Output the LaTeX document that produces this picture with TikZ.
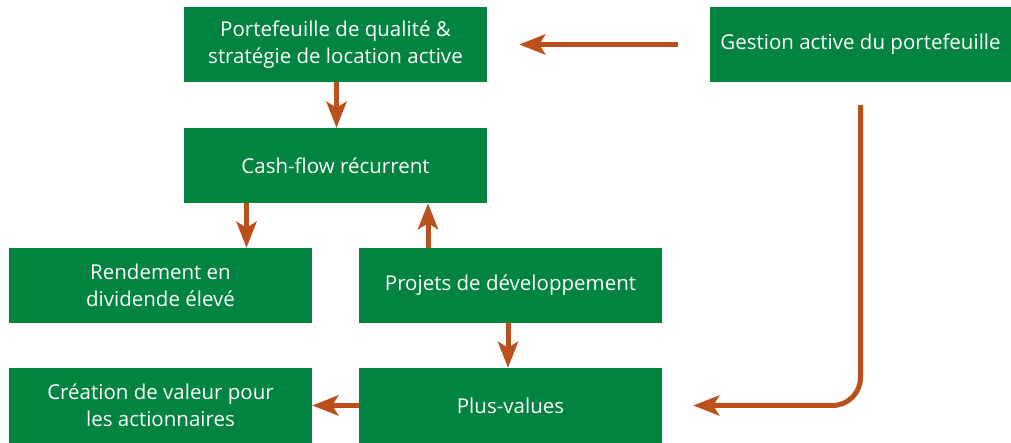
\documentclass[tikz,border=0pt]{standalone}
\usepackage{fontspec}
\setmainfont{Open Sans}
\usetikzlibrary{arrows.meta}
\definecolor{boxgreen}{HTML}{00843F}
\definecolor{arrowor}{HTML}{BB501C}
\tikzset{
  box/.style={rectangle, fill=boxgreen, text=white, minimum width=303pt, minimum height=75pt, inner sep=0pt, align=center, font=\fontsize{20.5}{27}\selectfont},
  flow/.style={draw=arrowor, line width=5pt, -{Stealth[length=26pt,width=20pt,inset=6pt]}},
}
\begin{document}
\begin{tikzpicture}[x=1pt,y=1pt]
\useasboundingbox (0,0) rectangle (1011,443);
\node[box] (port) at (335.5,398.5) {Portefeuille de qualité \&\\stratégie de location active};
\node[box, minimum width=301pt] (gest) at (860.5,398.5) {Gestion active du portefeuille};
\node[box] (cash) at (335.5,277.5) {Cash-flow récurrent};
\node[box] (rend) at (160.5,157.5) {Rendement en\\dividende élevé};
\node[box] (proj) at (510.5,157.5) {Projets de développement};
\node[box] (crea) at (160.5,37.5) {Création de valeur pour\\les actionnaires};
\node[box] (plus) at (510.5,37.5) {Plus-values};
\draw[flow] ([xshift=1pt]port.south) -- ([xshift=1pt]cash.north);
\draw[flow, shorten <=32pt, shorten >=32pt] (gest.west) -- (port.east);
\draw[flow] (cash.south -| rend.north) ++(86,0) coordinate (c1) -- (c1 |- rend.north);
\coordinate (c2) at ([xshift=-82.5pt]proj.north);
\draw[flow] (c2) -- (c2 |- cash.south);
\draw[flow] ([xshift=-2.5pt]proj.south) -- ([xshift=-2.5pt]plus.north);
\draw[flow] (plus.west) -- (crea.east);
\coordinate (g1) at ([yshift=-23pt]gest.south);
\coordinate (p1) at ([xshift=31pt]plus.east);
\draw[flow, rounded corners=28pt] (g1) -- (g1 |- p1) -- (p1);
\end{tikzpicture}
\end{document}
